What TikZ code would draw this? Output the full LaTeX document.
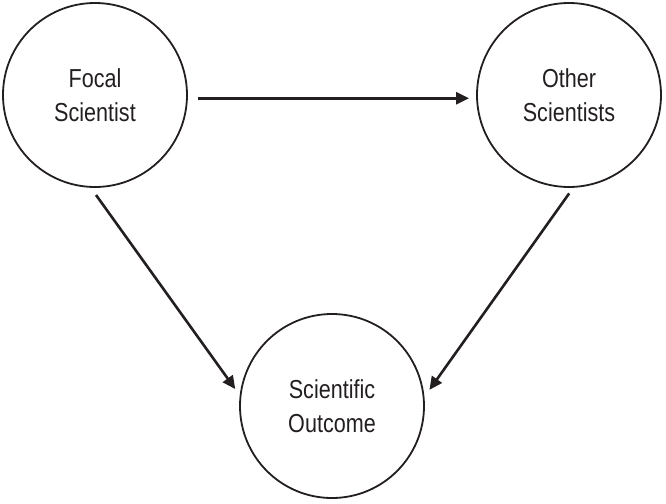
\documentclass[tikz,border=0pt]{standalone}
\usepackage{fontspec}
\setmainfont{Liberation Sans}[FakeStretch=0.83]
\usetikzlibrary{arrows.meta}
\definecolor{ink}{HTML}{231F20}
\begin{document}
\begin{tikzpicture}[x=1pt,y=-1pt,
  actor/.style={circle,draw=ink,line width=1.8pt,minimum size=184pt,inner sep=0pt,outer sep=0pt,
    align=center,text=ink,font=\fontsize{26}{34}\selectfont},
  link/.style={draw=ink,line width=2.6pt,-{Triangle[length=13pt,width=12pt]}}]
\useasboundingbox (0,0) rectangle (666,503);
\node[actor] (fs) at (95,95) {Focal\\Scientist};
\node[actor] (os) at (569,95) {Other\\Scientists};
\node[actor] (so) at (332,406) {Scientific\\Outcome};
\draw[link,shorten <=11pt,shorten >=8pt] (fs.-2) -- (os.182);
\draw[link,shorten <=10pt,shorten >=9pt] (fs.-93) -- (so.174);
\draw[link,shorten <=8pt,shorten >=10pt] (os.-87) -- (so.5.5);
\end{tikzpicture}
\end{document}
